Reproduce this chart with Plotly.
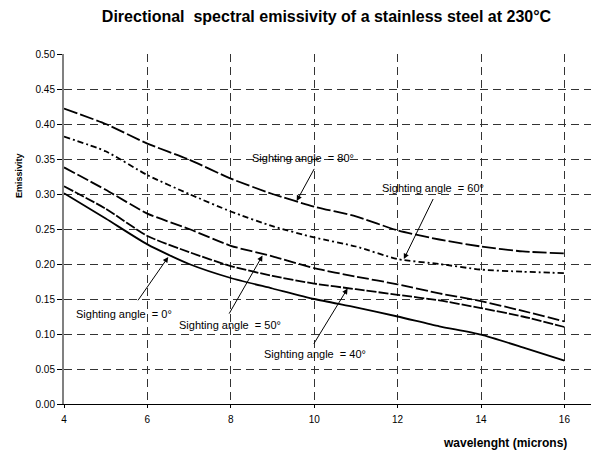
import plotly.graph_objects as go

wavelength = [4, 5, 6, 7, 8, 9, 10, 11, 12, 13, 14, 15, 16]
angle_0 = [0.301, 0.265, 0.228, 0.200, 0.180, 0.165, 0.150, 0.138, 0.125, 0.111, 0.099, 0.081, 0.062]
angle_40 = [0.311, 0.279, 0.240, 0.217, 0.197, 0.183, 0.172, 0.164, 0.156, 0.148, 0.137, 0.125, 0.110]
angle_50 = [0.338, 0.306, 0.272, 0.250, 0.226, 0.211, 0.194, 0.182, 0.171, 0.158, 0.147, 0.133, 0.118]
angle_60 = [0.382, 0.361, 0.327, 0.300, 0.275, 0.254, 0.238, 0.225, 0.207, 0.200, 0.192, 0.189, 0.187]
angle_80 = [0.422, 0.400, 0.372, 0.349, 0.322, 0.300, 0.282, 0.268, 0.248, 0.235, 0.225, 0.218, 0.215]

x_ticks = [4, 6, 8, 10, 12, 14, 16]
y_ticks = [0.00, 0.05, 0.10, 0.15, 0.20, 0.25, 0.30, 0.35, 0.40, 0.45, 0.50]

# label text, label centre (x, y), arrow tail (x, y), arrow head (x, y)
labels = [
    ("Sighting angle  = 80°", 9.73, 0.352, 10.02, 0.338, 9.58, 0.290),
    ("Sighting angle  = 60°", 12.85, 0.309, 12.87, 0.295, 12.15, 0.207),
    ("Sighting angle  = 0°", 5.44, 0.129, 5.75, 0.146, 6.50, 0.210),
    ("Sighting angle  = 50°", 7.98, 0.1135, 7.94, 0.127, 8.76, 0.212),
    ("Sighting angle  = 40°", 10.03, 0.0716, 9.97, 0.084, 10.80, 0.165),
]

FONT = "Liberation Sans, Arial, sans-serif"

# the page body has an 8px default margin, so the figure is drawn 8px in
OFF = 8
W, H = 599 - OFF, 453 - OFF

series = [
    (angle_0, "solid"),
    (angle_40, "10px,2px"),
    (angle_50, "12px,3px"),
    (angle_60, "6px,3px,2px,3px"),
    (angle_80, "14px,3px"),
]

fig = go.Figure()
for vals, dash in series:
    fig.add_trace(go.Scatter(
        x=wavelength, y=vals, mode="lines",
        line=dict(color="black", width=1.8, dash=dash, shape="spline", smoothing=0.6),
        showlegend=False, hoverinfo="skip",
    ))

annotations = []
for text, lx, ly, tx, ty, hx, hy in labels:
    annotations.append(dict(
        x=lx, y=ly, xref="x", yref="y", text=text, showarrow=False,
        font=dict(family=FONT, size=11, color="black"),
        xanchor="center", yanchor="middle",
    ))
    annotations.append(dict(
        x=hx, y=hy, ax=tx, ay=ty, xref="x", yref="y", axref="x", ayref="y",
        text="", showarrow=True, arrowhead=2, arrowsize=1.1, arrowwidth=1,
        arrowcolor="black", standoff=0, startstandoff=0,
    ))

annotations.append(dict(
    x=-0.0854, y=0.326, xref="paper", yref="y", text="<b>Emissivity</b>",
    showarrow=False, textangle=-90, font=dict(family=FONT, size=9, color="black"),
    xanchor="center", yanchor="middle",
))
annotations.append(dict(
    x=0.824, y=-0.1114, xref="paper", yref="paper", text="<b>wavelenght (microns)</b>",
    showarrow=False, font=dict(family=FONT, size=12, color="black"),
    xanchor="center", yanchor="middle",
))

fig.update_layout(
    width=W, height=H,
    margin=dict(l=64 - OFF, r=0, t=54 - OFF, b=49),
    paper_bgcolor="white", plot_bgcolor="white",
    title=dict(
        text="<b>Directional  spectral emissivity of a stainless steel at 230°C</b>",
        x=(326.5 - OFF) / W, xanchor="center", y=1 - (16 - OFF) / H, yanchor="middle",
        font=dict(family=FONT, size=16, color="black"),
    ),
    annotations=annotations,
    showlegend=False,
)

fig.update_xaxes(
    range=[4, 4 + 535 / 41.7], tickvals=x_ticks, ticktext=[str(v) for v in x_ticks],
    showgrid=True, gridcolor="#333333", gridwidth=1, griddash="8px,5px",
    showline=True, linecolor="black", linewidth=1,
    ticks="outside", ticklen=3, tickcolor="black", ticklabelstandoff=3,
    tickfont=dict(family=FONT, size=10, color="black"), zeroline=False,
)
fig.update_yaxes(
    range=[0, 0.5], tickvals=y_ticks, ticktext=[f"{v:.2f}" for v in y_ticks],
    showgrid=True, gridcolor="#333333", gridwidth=1, griddash="8px,5px",
    showline=True, linecolor="#808080", linewidth=2,
    ticks="outside", ticklen=5, tickcolor="black",
    tickfont=dict(family=FONT, size=10, color="black"), zeroline=False,
)

fig.write_html("out.html")
